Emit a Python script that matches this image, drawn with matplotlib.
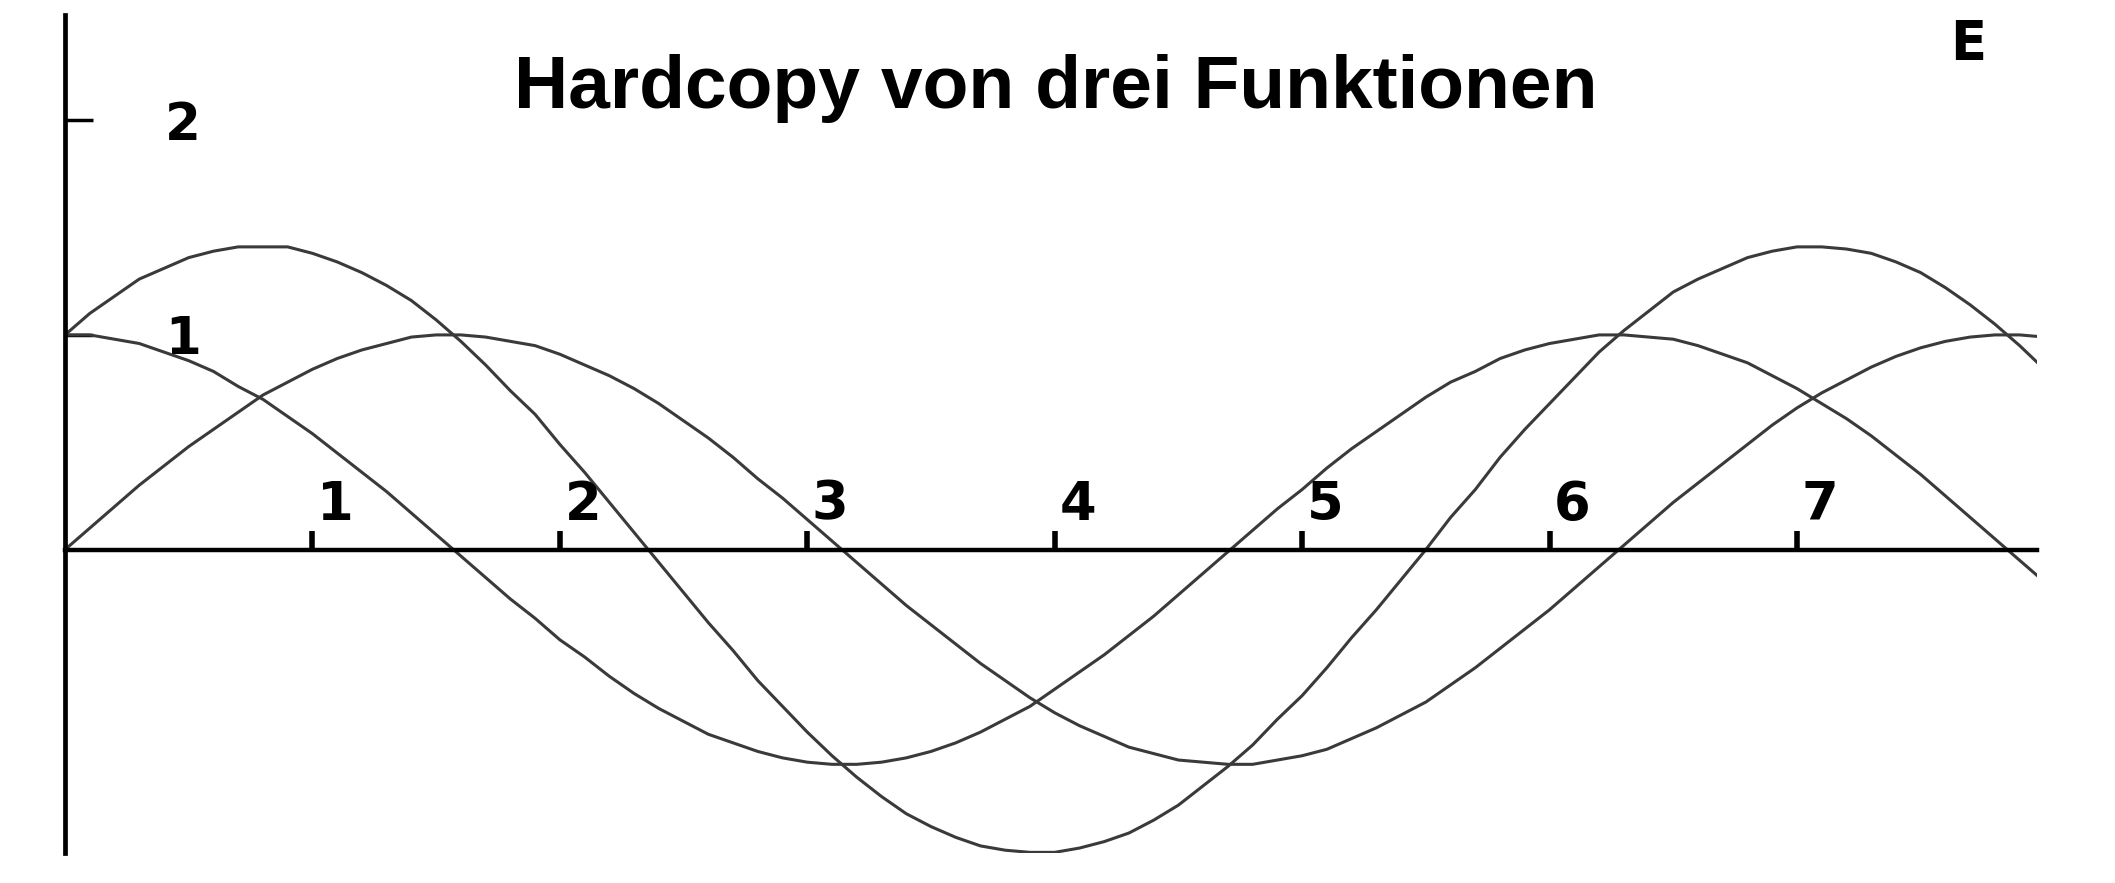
import matplotlib
matplotlib.use("Agg")
import matplotlib.pyplot as plt

# ---- data ----
x_values = [0.0, 0.1, 0.2, 0.3, 0.4, 0.5, 0.6, 0.7, 0.8, 0.9,
            1.0, 1.1, 1.2, 1.3, 1.4, 1.5, 1.6, 1.7, 1.8, 1.9,
            2.0, 2.1, 2.2, 2.3, 2.4, 2.5, 2.6, 2.7, 2.8, 2.9,
            3.0, 3.1, 3.2, 3.3, 3.4, 3.5, 3.6, 3.7, 3.8, 3.9,
            4.0, 4.1, 4.2, 4.3, 4.4, 4.5, 4.6, 4.7, 4.8, 4.9,
            5.0, 5.1, 5.2, 5.3, 5.4, 5.5, 5.6, 5.7, 5.8, 5.9,
            6.0, 6.1, 6.2, 6.3, 6.4, 6.5, 6.6, 6.7, 6.8, 6.9,
            7.0, 7.1, 7.2, 7.3, 7.4, 7.5, 7.6, 7.7, 7.8, 7.9, 8.0]

curve_a = [0.00, 0.10, 0.20, 0.30, 0.39, 0.48, 0.56, 0.64, 0.72, 0.78,
           0.84, 0.89, 0.93, 0.96, 0.99, 1.00, 1.00, 0.99, 0.97, 0.95,
           0.91, 0.86, 0.81, 0.75, 0.68, 0.60, 0.52, 0.43, 0.33, 0.24,
           0.14, 0.04, -0.06, -0.16, -0.26, -0.35, -0.44, -0.53, -0.61, -0.69,
           -0.76, -0.82, -0.87, -0.92, -0.95, -0.98, -0.99, -1.00, -1.00, -0.98,
           -0.96, -0.93, -0.88, -0.83, -0.77, -0.71, -0.63, -0.55, -0.46, -0.37,
           -0.28, -0.18, -0.08, 0.02, 0.12, 0.22, 0.31, 0.40, 0.49, 0.58,
           0.66, 0.73, 0.79, 0.85, 0.90, 0.94, 0.97, 0.99, 1.00, 1.00, 0.99]

curve_b = [1.00, 1.00, 0.98, 0.96, 0.92, 0.88, 0.83, 0.76, 0.70, 0.62,
           0.54, 0.45, 0.36, 0.27, 0.17, 0.07, -0.03, -0.13, -0.23, -0.32,
           -0.42, -0.50, -0.59, -0.67, -0.74, -0.80, -0.86, -0.90, -0.94, -0.97,
           -0.99, -1.00, -1.00, -0.99, -0.97, -0.94, -0.90, -0.85, -0.79, -0.73,
           -0.65, -0.57, -0.49, -0.40, -0.31, -0.21, -0.11, -0.01, 0.09, 0.19,
           0.28, 0.38, 0.47, 0.55, 0.63, 0.71, 0.78, 0.83, 0.89, 0.93,
           0.96, 0.98, 1.00, 1.00, 0.99, 0.98, 0.95, 0.91, 0.87, 0.81,
           0.75, 0.68, 0.61, 0.53, 0.44, 0.35, 0.25, 0.15, 0.05, -0.05, -0.15]

curve_c = [1.00, 1.10, 1.18, 1.26, 1.31, 1.36, 1.39, 1.41, 1.41, 1.41,
           1.38, 1.34, 1.29, 1.23, 1.16, 1.07, 0.97, 0.86, 0.74, 0.63,
           0.49, 0.36, 0.22, 0.08, -0.06, -0.20, -0.34, -0.47, -0.61, -0.73,
           -0.85, -0.96, -1.06, -1.15, -1.23, -1.29, -1.34, -1.38, -1.40, -1.41,
           -1.41, -1.39, -1.36, -1.32, -1.26, -1.19, -1.10, -1.01, -0.91, -0.79,
           -0.68, -0.55, -0.41, -0.28, -0.14, 0.00, 0.15, 0.28, 0.43, 0.56,
           0.68, 0.80, 0.92, 1.02, 1.11, 1.20, 1.26, 1.31, 1.36, 1.39,
           1.41, 1.41, 1.40, 1.38, 1.34, 1.29, 1.22, 1.14, 1.05, 0.95, 0.84]

x_ticks = [1, 2, 3, 4, 5, 6, 7]
x_tick_labels = ["1", "2", "3", "4", "5", "6", "7"]
y_ticks = [1, 2]
y_tick_labels = ["1", "2"]

title_text = "Hardcopy von drei Funktionen"
corner_text = "E"

# ---- figure ----
W, H = 2115, 883
fig = plt.figure(figsize=(W / 100, H / 100), dpi=100)
fig.patch.set_facecolor("white")

left_px, right_px = 65, 2037
top_px, bottom_px = 15, 853
ax = fig.add_axes([left_px / W, 1 - bottom_px / H,
                   (right_px - left_px) / W, (bottom_px - top_px) / H])
ax.set_xlim(0, 7.97)
ax.set_ylim(-1.413, 2.49)
ax.set_facecolor("white")

line_color = "#3a3a3a"
for ys in (curve_a, curve_b, curve_c):
    ax.plot(x_values, ys, color=line_color, lw=2.2, solid_capstyle="round",
            clip_on=True)

for side in ("top", "right"):
    ax.spines[side].set_visible(False)
ax.spines["bottom"].set_position(("data", 0))
ax.spines["bottom"].set_linewidth(3.2)
ax.spines["left"].set_linewidth(3.4)
ax.spines["bottom"].set_color("black")
ax.spines["left"].set_color("black")

ax.set_xticks(x_ticks)
ax.set_xticklabels([])
ax.tick_params(axis="x", direction="in", length=14, width=4, color="black",
               labelbottom=False)

ax.set_yticks(y_ticks)
ax.set_yticklabels(y_tick_labels, fontsize=37, fontweight="bold",
                   family="DejaVu Sans")
ax.tick_params(axis="y", direction="in", length=20, width=2.5, color="black",
               pad=-98)

for t, lab in zip(x_ticks, x_tick_labels):
    ax.annotate(lab, (t, 0), xytext=(23, 45), textcoords="offset pixels",
                ha="center", va="center", fontsize=38, fontweight="bold",
                family="DejaVu Sans", color="black")

fig.text(1056 / W, 1 - 108 / H, title_text, ha="center", va="baseline",
         fontsize=54, fontweight="bold", family="Liberation Sans",
         color="black")
fig.text(1968 / W, 1 - 44 / H, corner_text, ha="center", va="center",
         fontsize=38, fontweight="bold", family="DejaVu Sans", color="black")

fig.savefig("out.png", dpi=100, facecolor="white")
